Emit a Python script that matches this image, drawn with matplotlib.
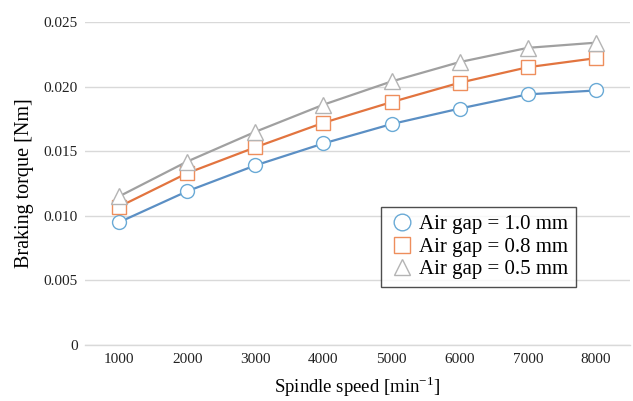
import numpy as np
import matplotlib.pyplot as plt

plt.rcParams['font.family'] = ['Liberation Serif', 'DejaVu Serif']

speeds = ['1000', '2000', '3000', '4000', '5000', '6000', '7000', '8000']
gap_10 = [0.0095, 0.0119, 0.0139, 0.0156, 0.0171, 0.0183, 0.0194, 0.0197]
gap_08 = [0.0107, 0.0133, 0.0153, 0.0172, 0.0188, 0.0203, 0.0215, 0.0222]
gap_05 = [0.0115, 0.0142, 0.0165, 0.0186, 0.0204, 0.0219, 0.0230, 0.0234]
labels = ['Air gap = 1.0 mm', 'Air gap = 0.8 mm', 'Air gap = 0.5 mm']

fig = plt.figure(figsize=(6.33, 4.01), dpi=100)
ax = fig.add_axes([85/633, 1 - 345/401, 545/633, 323/401])

x = np.arange(len(speeds))
series = [
    (gap_10, '#5b8fc4', '#6aaad6', 'o', 10),
    (gap_08, '#e2743f', '#ee8e5c', 's', 10),
    (gap_05, '#a0a0a0', '#b4b4b4', '^', 11),
]
for (vals, lc, mc, mk, ms), lab in zip(series, labels):
    ax.plot(x, vals, color=lc, lw=1.6, marker=mk, ms=ms, mfc='white',
            mec=mc, mew=1.0, label=lab, zorder=3)

ax.set_xlim(-0.5, len(speeds) - 0.5)
ax.set_ylim(0, 0.025)
ax.set_yticks([0, 0.005, 0.010, 0.015, 0.020, 0.025])
ax.set_yticklabels(['0', '0.005', '0.010', '0.015', '0.020', '0.025'])
ax.set_xticks(x)
ax.set_xticklabels(speeds)
ax.grid(axis='y', color='#d9d9d9', lw=1.0)
ax.set_axisbelow(True)
for s in ['top', 'right', 'left']:
    ax.spines[s].set_visible(False)
ax.spines['bottom'].set_color('#d9d9d9')
ax.spines['bottom'].set_linewidth(1.0)
ax.tick_params(axis='both', length=0, labelsize=11, colors='#222222')
ax.tick_params(axis='x', pad=6)
ax.tick_params(axis='y', pad=5)

ax.set_xlabel('Spindle speed [min$^{\\mathregular{-1}}$]', fontsize=13.5, labelpad=6)
ax.set_ylabel('Braking torque [Nm]', fontsize=14.5, labelpad=7)

leg = ax.legend(loc='upper left', bbox_to_anchor=((381 - 85) / 545, 1 - (207 - 22) / 323),
                fontsize=15, frameon=True, fancybox=False, handlelength=1.25,
                handletextpad=0.2, borderpad=0.38, labelspacing=0.13, borderaxespad=0)
leg.get_frame().set_edgecolor('#222222')
leg.get_frame().set_linewidth(1.0)
for h in leg.get_lines():
    h.set_linestyle('none')
    h.set_markersize(12)

fig.savefig('out.png', dpi=100)
